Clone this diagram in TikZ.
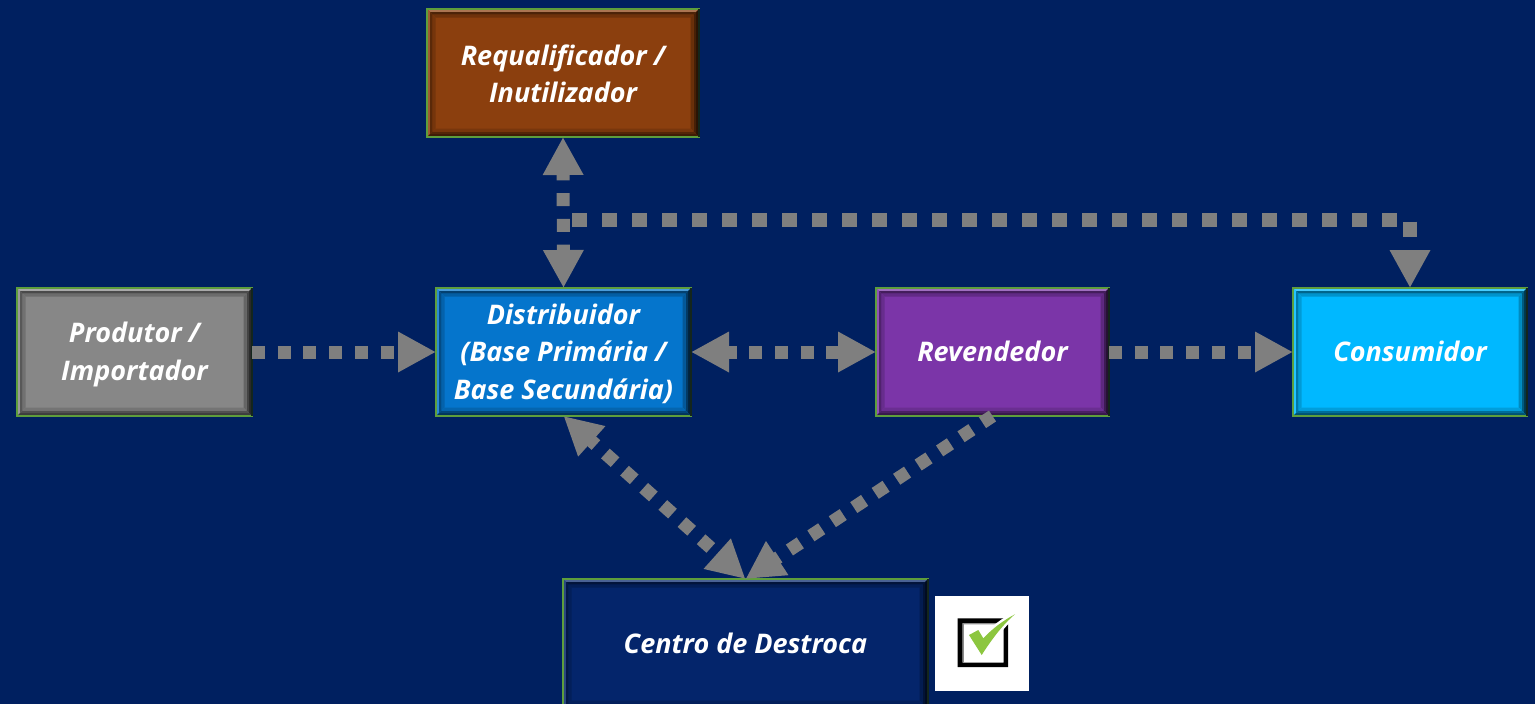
\documentclass[tikz,border=0pt]{standalone}
\usepackage{fontspec}
\setmainfont{Open Sans}
\usetikzlibrary{arrows.meta}
\definecolor{bgblue}{HTML}{002060}
\definecolor{linkgray}{HTML}{7F7F7F}
\definecolor{rimgreen}{HTML}{5E9E3C}
\definecolor{rimdark}{HTML}{14261C}
\definecolor{cGray}{HTML}{878787}
\definecolor{cBrown}{HTML}{8B3F0E}
\definecolor{cBlue}{HTML}{0575CC}
\definecolor{cPurple}{HTML}{7B35A8}
\definecolor{cCyan}{HTML}{00B8FF}
\definecolor{cNavy}{HTML}{04256B}
\definecolor{tickgreen}{HTML}{8CC63F}
\newcommand\bevring[6]{%
  \fill[#3] ([shift={(#1pt,-#1pt)}]nw)--([shift={(-#1pt,-#1pt)}]ne)--([shift={(-#2pt,-#2pt)}]ne)--([shift={(#2pt,-#2pt)}]nw)--cycle;
  \fill[#4] ([shift={(#1pt,-#1pt)}]nw)--([shift={(#1pt,#1pt)}]sw)--([shift={(#2pt,#2pt)}]sw)--([shift={(#2pt,-#2pt)}]nw)--cycle;
  \fill[#5] ([shift={(-#1pt,-#1pt)}]ne)--([shift={(-#1pt,#1pt)}]se)--([shift={(-#2pt,#2pt)}]se)--([shift={(-#2pt,-#2pt)}]ne)--cycle;
  \fill[#6] ([shift={(#1pt,#1pt)}]sw)--([shift={(-#1pt,#1pt)}]se)--([shift={(-#2pt,#2pt)}]se)--([shift={(#2pt,#2pt)}]sw)--cycle;
}
\newcommand\liftpad{\rule{0pt}{24pt}}
\newcommand\raisepad{\rule[-2pt]{0pt}{2pt}}
\tikzset{
  x=1pt,y=-1pt,
  bevelbox/.style={
    rectangle,draw=rimgreen,line width=1.6pt,fill=#1,inner sep=0pt,outer sep=0pt,anchor=north west,
    align=center,text=white,font=\fontsize{27}{37.5}\selectfont\bfseries\itshape,
    path picture={
      \coordinate (sw) at (path picture bounding box.south west);
      \coordinate (ne) at (path picture bounding box.north east);
      \coordinate (nw) at (path picture bounding box.north west);
      \coordinate (se) at (path picture bounding box.south east);
      \bevring{0}{3}{#1!72!white}{#1!85!white}{#1!30!black}{#1!45!black}
      \bevring{3}{5.5}{#1!55!black}{#1!65!black}{#1!50!black}{#1!60!black}
      \bevring{5.5}{8.5}{#1!80!black}{#1!84!black}{#1!75!black}{#1!86!black}
    },
    append after command={(\tikzlastnode.north east) edge[draw=rimdark,line width=1.6pt] (\tikzlastnode.south east)}},
  link/.style={draw=linkgray,line width=13pt,dash pattern=on 13pt off 12.7pt},
  longlink/.style={draw=linkgray,line width=14pt,dash pattern=on 15pt off 15pt},
  tip/.tip={Triangle[length=38pt,width=38pt]},
  checkpanel/.style={rectangle,fill=white,inner sep=0pt,outer sep=0pt,minimum width=94pt,minimum height=95pt,anchor=north west}
}
\begin{document}
\begin{tikzpicture}
\useasboundingbox[fill=bgblue] (0,0) rectangle (1535,704);
\node[bevelbox=cBrown,minimum width=272pt,minimum height=128pt] (req) at (427,9) {\rule{0pt}{22pt}Requalificador /\\Inutilizador};
\node[bevelbox=cGray,minimum width=235pt,minimum height=128pt] (prod) at (17,288) {\rule{0pt}{25pt}Produtor /\\Importador};
\node[bevelbox=cBlue,minimum width=255pt,minimum height=128pt] (dist) at (436,288) {\liftpad Distribuidor\\(Base Primária /\\Base Secundária)};
\node[bevelbox=cPurple,minimum width=233pt,minimum height=128pt] (rev) at (876,288) {Revendedor\raisepad};
\node[bevelbox=cCyan,minimum width=234pt,minimum height=128pt] (cons) at (1293,288) {Consumidor\raisepad};
\begin{scope}
\clip (0,0) rectangle (1535,704);
\node[bevelbox=cNavy,minimum width=365pt,minimum height=130pt] (centro) at (563,579) {Centro de Destroca\raisepad};
\end{scope}
\node[checkpanel] (panel) at (935,596) {};
\fill[black,even odd rule] (957.7,618.3) rectangle (1008,667) (962.5,623) rectangle (1003.5,662.5);
\fill[black!45] (962.5,623) rectangle (1003.5,624.3) (962.5,623) rectangle (963.8,662.5);
\fill[tickgreen,line join=round,preaction={draw=white,line width=5pt,line join=round}] (969,635) -- (978.3,630) -- (983.3,638.3) .. controls (993,628) and (1004,620) .. (1015,614.3) .. controls (1002,625) and (990,642) .. (981.7,655) -- cycle;
\coordinate (branch) at (572,219.5);
\draw[link,-{tip}] (prod.east) -- (dist.west);
\draw[link,dash phase=3pt,{tip}-{tip}] (dist.east) -- (rev.west);
\draw[link,-{tip}] (rev.east) -- (cons.west);
\draw[link,dash phase=5.2pt,{tip}-{tip}] (req.south) -- (dist.north);
\draw[longlink,-{tip}] (branch) -| (cons.north);
\draw[link,dash phase=5.1pt,{tip}-{tip}] (dist.south) -- (centro.north);
\draw[link,dash phase=1pt,-{tip}] (rev.south) -- (centro.north);
\end{tikzpicture}
\end{document}
